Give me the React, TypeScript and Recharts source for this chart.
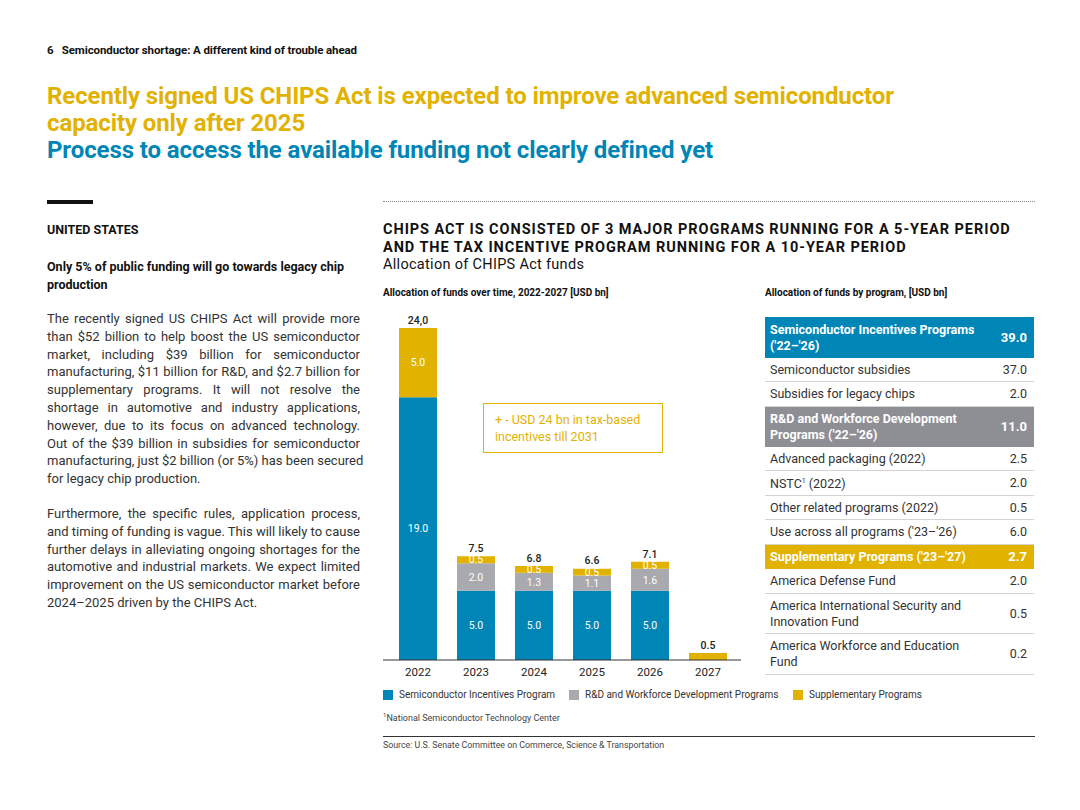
import React from 'react';
import { Bar, BarChart, LabelList, XAxis, YAxis } from 'recharts';

const years = ['2022', '2023', '2024', '2025', '2026', '2027'];
const semiconductorIncentives = [19.0, 5.0, 5.0, 5.0, 5.0, 0];
const rdWorkforce = [0, 2.0, 1.3, 1.1, 1.6, 0];
const supplementary = [5.0, 0.5, 0.5, 0.5, 0.5, 0.5];
const totalLabels = ['24,0', '7.5', '6.8', '6.6', '7.1', '0.5'];

const programNames = [
  "Semiconductor Incentives Programs ('22–'26)",
  'Semiconductor subsidies',
  'Subsidies for legacy chips',
  "R&D and Workforce Development Programs ('22–'26)",
  'Advanced packaging (2022)',
  'NSTC¹ (2022)',
  'Other related programs (2022)',
  "Use across all programs ('23–'26)",
  "Supplementary Programs ('23–'27)",
  'America Defense Fund',
  'America International Security and Innovation Fund',
  'America Workforce and Education Fund',
];
const programValues = ['39.0', '37.0', '2.0', '11.0', '2.5', '2.0', '0.5', '6.0', '2.7', '2.0', '0.5', '0.2'];
const programKinds = ['blue', 'row', 'row', 'gray', 'row', 'row', 'row', 'row', 'yellow', 'row', 'row', 'row'];
const rowHeights = [41, 24, 25, 40, 24, 25, 24, 25, 24, 25, 40, 41];

const bodyPara1 = [
  'The recently signed US CHIPS Act will provide more',
  'than $52 billion to help boost the US semiconductor',
  'market, including $39 billion for semiconductor',
  'manufacturing, $11 billion for R&D, and $2.7 billion for',
  'supplementary programs. It will not resolve the',
  'shortage in automotive and industry applications,',
  'however, due to its focus on advanced technology.',
  'Out of the $39 billion in subsidies for semiconductor',
  'manufacturing, just $2 billion (or 5%) has been secured',
  'for legacy chip production.',
];
const bodyPara2 = [
  'Furthermore, the specific rules, application process,',
  'and timing of funding is vague. This will likely to cause',
  'further delays in alleviating ongoing shortages for the',
  'automotive and industrial markets. We expect limited',
  'improvement on the US semiconductor market before',
  '2024–2025 driven by the CHIPS Act.',
];

const BLUE = '#0086B6';
const GRAY = '#A9A9B0';
const GRAY_HEAD = '#8E8E95';
const YELLOW = '#E2B200';
const FONT = 'Roboto, "Open Sans", sans-serif';

const data = years.map((year, i) => ({
  year,
  semi: semiconductorIncentives[i],
  rd: rdWorkforce[i],
  supp: supplementary[i],
}));

const InsideLabel = (props: any) => {
  const { x, y, width, height, value, index } = props;
  if (!value) return null;
  // a bar made of a single segment only carries its total above it
  if (semiconductorIncentives[index] + rdWorkforce[index] === 0) return null;
  return (
    <text x={x + width / 2} y={y + height / 2} dy="0.36em" textAnchor="middle" fill="#fff" fontSize={10.5} fontFamily={FONT}>
      {Number(value).toFixed(1)}
    </text>
  );
};

const TotalLabel = (props: any) => {
  const { x, y, width, index } = props;
  return (
    <text x={x + width / 2} y={y - 8} dy="0.36em" textAnchor="middle" fill="#222" fontSize={10.5} fontWeight={500} fontFamily={FONT}>
      {totalLabels[index]}
    </text>
  );
};

const abs = (left: number, top: number, extra: React.CSSProperties = {}): React.CSSProperties => ({
  position: 'absolute',
  left,
  top,
  ...extra,
});

const JustifiedLines: React.FC<{ lines: string[]; top: number }> = ({ lines, top }) => (
  <div style={abs(47, top, { width: 313, fontSize: 13, lineHeight: '17.8px', color: '#333' })}>
    {lines.map((line, i) => (
      <div
        key={i}
        style={{
          whiteSpace: 'nowrap',
          textAlign: 'justify',
          textAlignLast: i === lines.length - 1 ? 'left' : 'justify',
        }}
      >
        {line}
      </div>
    ))}
  </div>
);

const ProgramTable: React.FC = () => {
  let y = 317;
  return (
    <div>
      {programNames.map((name, i) => {
        const kind = programKinds[i];
        const h = rowHeights[i];
        const top = y;
        y += h;
        const bg = kind === 'blue' ? BLUE : kind === 'gray' ? GRAY_HEAD : kind === 'yellow' ? YELLOW : 'transparent';
        const isHead = kind !== 'row';
        const label = name.includes('¹') ? (
          <>
            NSTC<sup style={{ fontSize: 7 }}>1</sup> (2022)
          </>
        ) : (
          name
        );
        return (
          <div
            key={i}
            style={abs(765, top, {
              width: 269,
              height: h,
              background: bg,
              borderBottom: isHead ? 'none' : '1px solid #d4d4d4',
              boxSizing: 'border-box',
              display: 'flex',
              alignItems: 'center',
              justifyContent: 'space-between',
              paddingLeft: 5,
              paddingRight: 7,
              color: isHead ? '#fff' : '#333',
              fontWeight: isHead ? 700 : 400,
              fontSize: 12.5,
              lineHeight: '16px',
            })}
          >
            <div style={{ width: 210 }}>{label}</div>
            <div style={{ fontSize: isHead ? 13 : 12.5 }}>{programValues[i]}</div>
          </div>
        );
      })}
    </div>
  );
};

const LegendItem: React.FC<{ left: number; color: string; text: string }> = ({ left, color, text }) => (
  <div style={abs(left, 689, { display: 'flex', alignItems: 'center', fontSize: 10, color: '#333' })}>
    <div style={{ width: 10, height: 10, background: color, marginRight: 6 }} />
    {text}
  </div>
);

export default function App() {
  return (
    <div style={abs(0, 0, { width: 1080, height: 810, background: '#fff', fontFamily: FONT, overflow: 'hidden' })}>
      <div style={abs(47, 43, { fontSize: 11.5, fontWeight: 700, color: '#111', letterSpacing: -0.1 })}>
        6&nbsp;&nbsp;&nbsp;Semiconductor shortage: A different kind of trouble ahead
      </div>

      <div style={abs(47, 83, { fontSize: 24, fontWeight: 700, lineHeight: '27px', color: YELLOW, letterSpacing: -0.1 })}>
        Recently signed US CHIPS Act is expected to improve advanced semiconductor
        <br />
        capacity only after 2025
        <div style={{ color: BLUE }}>Process to access the available funding not clearly defined yet</div>
      </div>

      <div style={abs(47, 200, { width: 46, height: 4, background: '#111' })} />
      <div style={abs(383, 201, { width: 652, borderTop: '1px dotted #888' })} />

      <div style={abs(47, 222, { fontSize: 12.5, fontWeight: 700, color: '#111' })}>UNITED STATES</div>
      <div style={abs(47, 258, { width: 320, fontSize: 12.5, fontWeight: 700, color: '#111', lineHeight: '17.5px' })}>
        Only 5% of public funding will go towards legacy chip
        <br />
        production
      </div>

      <JustifiedLines lines={bodyPara1} top={310} />
      <JustifiedLines lines={bodyPara2} top={505} />

      <div style={abs(383, 221, { fontSize: 14.5, fontWeight: 700, color: '#111', lineHeight: '17.5px', letterSpacing: 0.95 })}>
        CHIPS ACT IS CONSISTED OF 3 MAJOR PROGRAMS RUNNING FOR A 5-YEAR PERIOD
        <br />
        AND THE TAX INCENTIVE PROGRAM RUNNING FOR A 10-YEAR PERIOD
        <div style={{ fontWeight: 400, letterSpacing: 0.3 }}>Allocation of CHIPS Act funds</div>
      </div>

      <div style={abs(383, 287, { fontSize: 10, fontWeight: 700, color: '#111' })}>
        Allocation of funds over time, 2022-2027 [USD bn]
      </div>
      <div style={abs(765, 287, { fontSize: 10, fontWeight: 700, color: '#111' })}>
        Allocation of funds by program, [USD bn]
      </div>

      <div style={abs(383, 300)}>
        <BarChart width={358} height={390} data={data} margin={{ top: 28, right: 0, bottom: 0, left: 0 }}>
          <XAxis
            dataKey="year"
            axisLine={{ stroke: '#333' }}
            tickLine={false}
            padding={{ left: 6, right: 4 }}
            height={30}
            tick={{ fontSize: 11.5, fill: '#222', fontFamily: FONT }}
          />
          <YAxis hide domain={[0, 24]} />
          <Bar dataKey="semi" stackId="a" fill={BLUE} barSize={38} isAnimationActive={false}>
            <LabelList dataKey="semi" content={InsideLabel} />
          </Bar>
          <Bar dataKey="rd" stackId="a" fill={GRAY} barSize={38} isAnimationActive={false}>
            <LabelList dataKey="rd" content={InsideLabel} />
          </Bar>
          <Bar dataKey="supp" stackId="a" fill={YELLOW} barSize={38} isAnimationActive={false}>
            <LabelList dataKey="supp" content={InsideLabel} />
            <LabelList dataKey="supp" content={TotalLabel} />
          </Bar>
        </BarChart>
      </div>

      <div
        style={abs(483, 403, {
          width: 180,
          height: 50,
          boxSizing: 'border-box',
          border: `1.5px solid ${YELLOW}`,
          color: YELLOW,
          fontSize: 12.5,
          lineHeight: '17px',
          padding: '7px 0 0 11px',
        })}
      >
        + - USD 24 bn in tax-based
        <br />
        incentives till 2031
      </div>

      <ProgramTable />

      <LegendItem left={383} color={BLUE} text="Semiconductor Incentives Program" />
      <LegendItem left={569} color={GRAY} text="R&D and Workforce Development Programs" />
      <LegendItem left={793} color={YELLOW} text="Supplementary Programs" />

      <div style={abs(383, 711, { fontSize: 9, color: '#444' })}>
        <sup style={{ fontSize: 6 }}>1</sup>National Semiconductor Technology Center
      </div>
      <div style={abs(383, 736, { width: 652, height: 1, background: '#333' })} />
      <div style={abs(383, 740, { fontSize: 8.8, color: '#444' })}>
        Source: U.S. Senate Committee on Commerce, Science &amp; Transportation
      </div>
    </div>
  );
}
